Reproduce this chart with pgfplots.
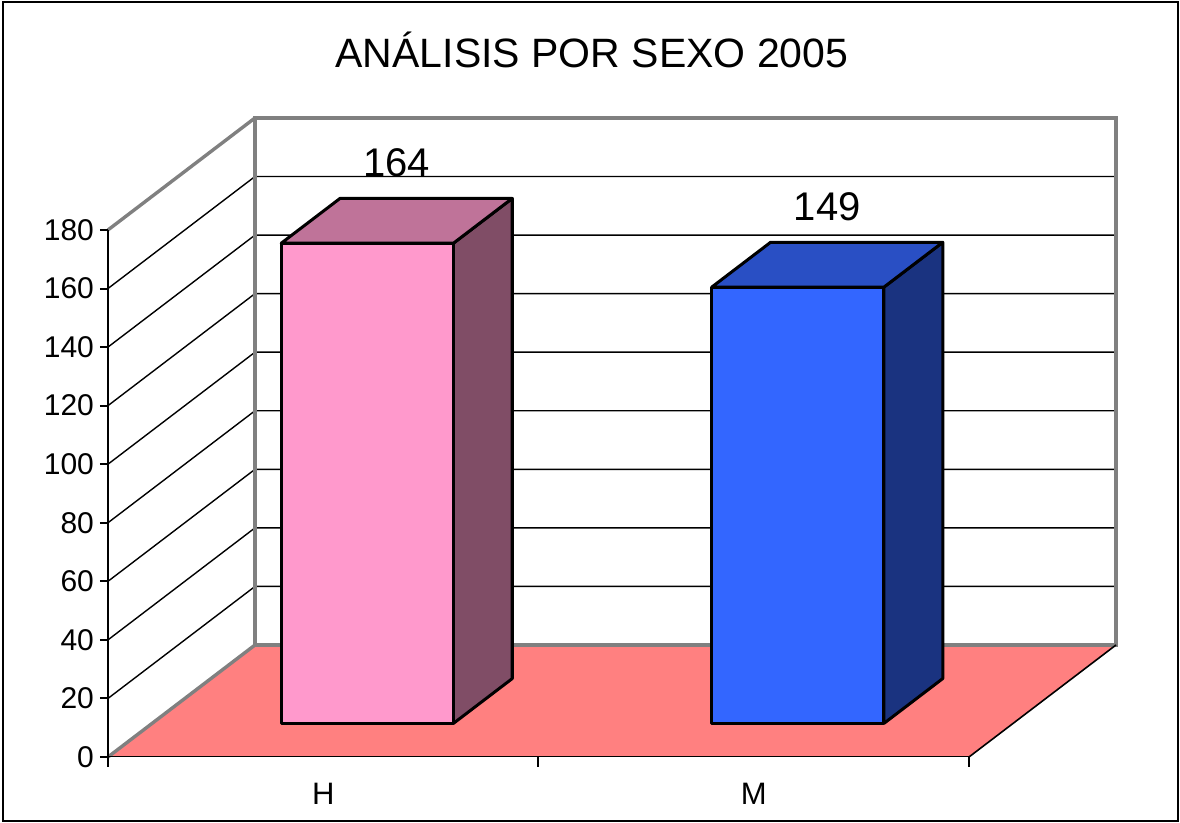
\documentclass[border=0pt]{standalone}
\usepackage{pgfplots}
\pgfplotsset{compat=1.18}
\usepackage{fontspec}
\setmainfont{Liberation Sans}
\usetikzlibrary{calc}
\definecolor{floorc}{HTML}{FF8080}
\definecolor{hfront}{HTML}{FF99CC}
\definecolor{htop}{HTML}{BF7399}
\definecolor{hside}{HTML}{804D66}
\definecolor{mfront}{HTML}{3366FF}
\definecolor{mtop}{HTML}{294FC4}
\definecolor{mside}{HTML}{1A3380}
\definecolor{wallc}{HTML}{808080}
\begin{document}
\begin{tikzpicture}
\begin{axis}[
  x={(215.25pt,0pt)}, y={(73.5pt,56pt)}, z={(0pt,1.464pt)},
  xmin=0.5, xmax=2.5, ymin=0, ymax=1, zmin=0, zmax=180,
  axis lines=left, axis line style={draw=none},
  major tick length=0pt,
  xtick={1,2}, xticklabels={H,M}, ytick=\empty,
  ztick={0,20,40,60,80,100,120,140,160,180},
  ticklabel style={font=\fontsize{15}{18}\selectfont},
  xticklabel style={anchor=north, yshift=-9.5pt, font=\fontsize{15.5}{18}\selectfont},
  zticklabel style={anchor=east, xshift=-3.5pt},
  clip=false,
  /pgf/number format/assume math mode=true,
]
\coordinate (O) at (axis cs:0.5,0,0);
% floor
\addplot3[fill=floorc, draw=none] coordinates {(0.5,0,0) (2.5,0,0) (2.5,1,0) (0.5,1,0)} -- cycle;
% grid lines on side and back walls
\pgfplotsinvokeforeach{20,40,60,80,100,120,140,160}{
  \addplot3[black, line width=0.7pt] coordinates {(0.5,0,#1) (0.5,1,#1) (2.5,1,#1)};
}
% wall edges
\addplot3[wallc, line width=1.7pt, line join=miter] coordinates {(0.5,1,0) (2.5,1,0) (2.5,1,180) (0.5,1,180)} -- cycle;
\addplot3[wallc, line width=1.7pt] coordinates {(0.5,0,180) (0.5,1,180)};
\addplot3[wallc, line width=1.7pt] coordinates {(0.5,0,0) (0.5,1,0)};
\addplot3[black, line width=0.8pt] coordinates {(2.5,0,0) (2.5,1,0)};
\addplot3[black, line width=0.5pt] coordinates {(0.5,0,0) (2.5,0,0)};
% value axis and ticks
\addplot3[black, line width=1pt] coordinates {(0.5,0,0) (0.5,0,180)};
\pgfplotsinvokeforeach{0,20,40,60,80,100,120,140,160,180}{
  \addplot3[black, line width=1pt] coordinates {(0.4814,0,#1) (0.5,0,#1)};
}
\pgfplotsinvokeforeach{0.5,1.5,2.5}{
  \addplot3[black, line width=1pt] coordinates {(#1,0,0) (#1,0,-3.4)};
}
% bar H = 164
\addplot3[fill=hside, draw=black, line width=1.5pt, line join=round] coordinates {(1.2,0.3,0) (1.2,0.7,0) (1.2,0.7,164) (1.2,0.3,164)} -- cycle;
\addplot3[fill=htop, draw=black, line width=1.5pt, line join=round] coordinates {(0.8,0.3,164) (1.2,0.3,164) (1.2,0.7,164) (0.8,0.7,164)} -- cycle;
\addplot3[fill=hfront, draw=black, line width=1.5pt, line join=round] coordinates {(0.8,0.3,0) (1.2,0.3,0) (1.2,0.3,164) (0.8,0.3,164)} -- cycle;
% bar M = 149
\addplot3[fill=mside, draw=black, line width=1.5pt, line join=round] coordinates {(2.2,0.3,0) (2.2,0.7,0) (2.2,0.7,149) (2.2,0.3,149)} -- cycle;
\addplot3[fill=mtop, draw=black, line width=1.5pt, line join=round] coordinates {(1.8,0.3,149) (2.2,0.3,149) (2.2,0.7,149) (1.8,0.7,149)} -- cycle;
\addplot3[fill=mfront, draw=black, line width=1.5pt, line join=round] coordinates {(1.8,0.3,0) (2.2,0.3,0) (2.2,0.3,149) (1.8,0.3,149)} -- cycle;
% value labels
\addplot3[only marks, mark=none, point meta=z, nodes near coords,
  nodes near coords style={anchor=base, yshift=22pt, font=\fontsize{20}{24}\selectfont}]
  coordinates {(1,0.5,164) (2,0.5,149)};
\end{axis}
\node[anchor=base, font=\fontsize{20.5}{24}\selectfont] at ($(O)+(242pt,344.5pt)$) {ANÁLISIS POR SEXO 2005};
\draw[line width=0.8pt] ($(O)+(-52.5pt,-32pt)$) rectangle ($(O)+(535pt,377.5pt)$);
\pgfresetboundingbox
\path ($(O)+(-54pt,-33pt)$) rectangle ($(O)+(536pt,378.5pt)$);
\end{tikzpicture}
\end{document}
